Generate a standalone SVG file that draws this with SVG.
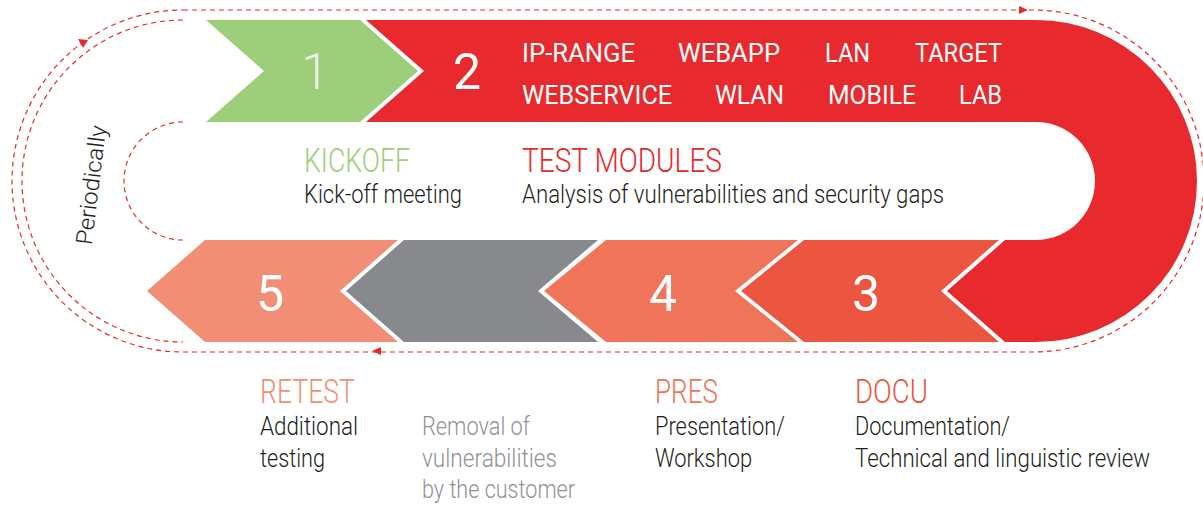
<svg xmlns="http://www.w3.org/2000/svg" width="1203" height="505" viewBox="0 0 1203 505">
<style>
text{font-family:"Roboto","Liberation Sans",sans-serif;}
.num{font-size:50px;font-weight:400;fill:#fff;text-anchor:middle;}
.mod{font-size:26px;font-weight:400;fill:#fff;}
.head{font-size:33px;font-weight:300;}
.desc{font-size:25px;font-weight:300;fill:#231f20;}
.dash{fill:none;stroke:#e8292d;stroke-width:1.2;stroke-dasharray:5 4;}
.tri{fill:#e8292d;}
</style>
<rect width="1203" height="505" fill="#fff"/>
<g id="connectors">
<path class="dash" d="M183,10 H1033 A171,171 0 0 1 1033,352 H183 A171,171 0 0 1 183,10"/>
<path class="dash" d="M183,20 A161,161 0 0 0 183,342"/>
<path class="dash" d="M183,122 A59,59 0 0 0 183,240"/>
<polygon class="tri" points="1019,6 1028,10 1019,14"/>
<polygon class="tri" points="372,351 381,347 381,355"/>
<polygon class="tri" points="78,39 88,40 83,48"/>
<text x="0" y="0" transform="translate(99,186) rotate(-83)" text-anchor="middle" font-size="23" font-weight="300" fill="#231f20" textLength="120" lengthAdjust="spacingAndGlyphs">Periodically</text>
</g>
<g id="step2-test-modules">
<path fill="#e8292d" d="M366,20 H1036 A161,161 0 0 1 1036,342 H1005 L947,291 L1005,240 H1036 A59,59 0 0 0 1036,122 H366 L424,71 Z"/>
<text class="num" x="467" y="89">2</text>
<text class="mod" x="522" y="62" textLength="113" lengthAdjust="spacingAndGlyphs">IP-RANGE</text>
<text class="mod" x="678" y="62" textLength="102" lengthAdjust="spacingAndGlyphs">WEBAPP</text>
<text class="mod" x="825" y="62" textLength="45" lengthAdjust="spacingAndGlyphs">LAN</text>
<text class="mod" x="915" y="62" textLength="87" lengthAdjust="spacingAndGlyphs">TARGET</text>
<text class="mod" x="522" y="104" textLength="150" lengthAdjust="spacingAndGlyphs">WEBSERVICE</text>
<text class="mod" x="715" y="104" textLength="69" lengthAdjust="spacingAndGlyphs">WLAN</text>
<text class="mod" x="828" y="104" textLength="88" lengthAdjust="spacingAndGlyphs">MOBILE</text>
<text class="mod" x="959" y="104" textLength="43" lengthAdjust="spacingAndGlyphs">LAB</text>
<text class="head" x="522" y="172" fill="#e8292d" textLength="200" lengthAdjust="spacingAndGlyphs">TEST MODULES</text>
<text class="desc" x="522" y="203" textLength="422" lengthAdjust="spacingAndGlyphs">Analysis of vulnerabilities and security gaps</text>
</g>
<g id="step1-kickoff">
<polygon fill="#9dcf7a" points="206,20 360,20 418,71 360,122 206,122 264,71"/>
<text class="num" x="315" y="89" style="fill:#ededed;font-weight:300">1</text>
<text class="head" x="304" y="172" fill="#9dcf7a" textLength="106" lengthAdjust="spacingAndGlyphs">KICKOFF</text>
<text class="desc" x="304" y="203" textLength="158" lengthAdjust="spacingAndGlyphs">Kick-off meeting</text>
</g>
<g id="step3-docu">
<polygon fill="#ec5640" points="804,240 999,240 941,291 999,342 804,342 741,291"/>
<text class="num" x="866" y="311">3</text>
<text class="head" x="855" y="403" fill="#ec5640" textLength="73" lengthAdjust="spacingAndGlyphs">DOCU</text>
<text class="desc" x="855" y="435" textLength="155" lengthAdjust="spacingAndGlyphs">Documentation/</text>
<text class="desc" x="855" y="467" textLength="295" lengthAdjust="spacingAndGlyphs">Technical and linguistic review</text>
</g>
<g id="step4-pres">
<polygon fill="#f07459" points="606,240 798,240 735,291 798,342 606,342 544,291"/>
<text class="num" x="663" y="311">4</text>
<text class="head" x="655" y="403" fill="#f07459" textLength="63" lengthAdjust="spacingAndGlyphs">PRES</text>
<text class="desc" x="655" y="435" textLength="130" lengthAdjust="spacingAndGlyphs">Presentation/</text>
<text class="desc" x="655" y="467" textLength="97" lengthAdjust="spacingAndGlyphs">Workshop</text>
</g>
<g id="step-removal">
<polygon fill="#87898d" points="404,240 598,240 538,291 598,342 404,342 346,291"/>
<text class="desc" x="422" y="435" style="fill:#909296" textLength="108" lengthAdjust="spacingAndGlyphs">Removal of</text>
<text class="desc" x="422" y="467" style="fill:#909296" textLength="135" lengthAdjust="spacingAndGlyphs">vulnerabilities</text>
<text class="desc" x="422" y="498" style="fill:#909296" textLength="153" lengthAdjust="spacingAndGlyphs">by the customer</text>
</g>
<g id="step5-retest">
<polygon fill="#f28e76" points="205,240 398,240 340,291 398,342 205,342 147,291"/>
<text class="num" x="270" y="311">5</text>
<text class="head" x="260" y="403" fill="#f28e76" textLength="95" lengthAdjust="spacingAndGlyphs">RETEST</text>
<text class="desc" x="260" y="435" textLength="98" lengthAdjust="spacingAndGlyphs">Additional</text>
<text class="desc" x="260" y="467" textLength="65" lengthAdjust="spacingAndGlyphs">testing</text>
</g>
</svg>
